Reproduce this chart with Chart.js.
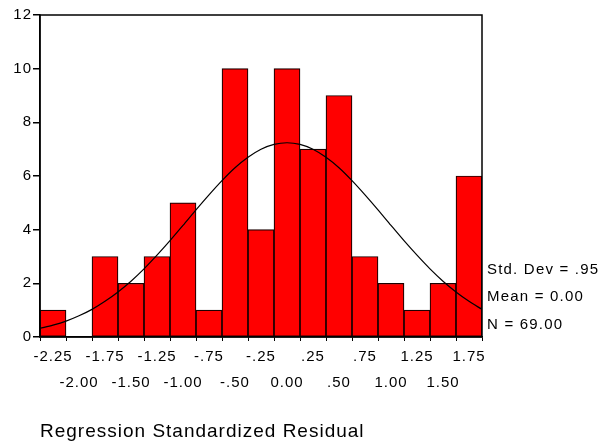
<!DOCTYPE html>
<html>
<head>
<meta charset="utf-8">
<script src="https://cdn.jsdelivr.net/npm/chart.js@4"></script>
<style>
  html, body { margin: 0; padding: 0; background: #fff; }
  #wrap { width: 603px; height: 443px; }
</style>
</head>
<body>
<div id="wrap"><canvas id="hist"></canvas></div>
<script>
// bin centres and counts
const binCenters = [-2.25, -2.00, -1.75, -1.50, -1.25, -1.00, -0.75, -0.50, -0.25, 0.00, 0.25, 0.50, 0.75, 1.00, 1.25, 1.50, 1.75];
const counts = [1, 0, 3, 2, 3, 5, 1, 10, 4, 10, 7, 9, 3, 2, 1, 2, 6];
const xTickLabels = ['-2.25', '-2.00', '-1.75', '-1.50', '-1.25', '-1.00', '-.75', '-.50', '-.25', '0.00', '.25', '.50', '.75', '1.00', '1.25', '1.50', '1.75'];
const yTicks = [0, 2, 4, 6, 8, 10, 12];

// normal curve, heights
const curveX = [-2.375, -2.25, -2.125, -2.0, -1.875, -1.75, -1.625, -1.5, -1.375, -1.25, -1.125, -1.0, -0.875, -0.75, -0.625, -0.5, -0.375, -0.25, -0.125,
  0, 0.125, 0.25, 0.375, 0.5, 0.625, 0.75, 0.875, 1.0, 1.125, 1.25, 1.375, 1.5, 1.625, 1.75, 1.875];
const curveY = [0.32, 0.44, 0.59, 0.79, 1.03, 1.33, 1.68, 2.08, 2.54, 3.05, 3.59, 4.16, 4.74, 5.30, 5.83, 6.31, 6.70, 7.00, 7.18,
  7.24, 7.18, 7.00, 6.70, 6.31, 5.83, 5.30, 4.74, 4.16, 3.59, 3.05, 2.54, 2.08, 1.68, 1.33, 1.03];

const statLines = ['Std. Dev = .95', 'Mean = 0.00', 'N = 69.00'];
const xTitle = 'Regression Standardized Residual';

const FONT = 'Arial, "Liberation Sans", sans-serif';

// frame + stats text
const extras = {
  id: 'extras',
  beforeUpdate(chart) { chart.ctx.letterSpacing = '1px'; },
  beforeDraw(chart) { chart.ctx.letterSpacing = '1px'; },
  afterDraw(chart) {
    const { ctx, chartArea: a } = chart;
    ctx.save();
    ctx.strokeStyle = '#000';
    ctx.lineWidth = 1.5;
    ctx.strokeRect(a.left, a.top, a.right - a.left, a.bottom - a.top);
    ctx.fillStyle = '#000';
    ctx.font = '15px ' + FONT;
    ctx.letterSpacing = '1.2px';
    ctx.textBaseline = 'middle';
    ctx.textAlign = 'left';
    const ys = [270, 297, 325];
    statLines.forEach((t, i) => ctx.fillText(t, a.right + 5, ys[i]));
    ctx.restore();
  }
};

new Chart(document.getElementById('hist'), {
  data: {
    datasets: [
      {
        type: 'line',
        data: curveX.map((x, i) => ({ x, y: curveY[i] })),
        borderColor: '#000',
        borderWidth: 1.2,
        pointRadius: 0,
        tension: 0.3,
        fill: false,
        order: 0
      },
      {
        type: 'bar',
        data: binCenters.map((x, i) => ({ x, y: counts[i] })),
        backgroundColor: '#ff0000',
        borderColor: '#1a0000',
        borderWidth: 1.2,
        borderSkipped: false,
        barPercentage: 1,
        categoryPercentage: 1,
        order: 1
      }
    ]
  },
  options: {
    responsive: true,
    maintainAspectRatio: false,
    animation: false,
    layout: { padding: { left: 0, top: 15, right: 121, bottom: 0 } },
    plugins: { legend: { display: false }, tooltip: { enabled: false } },
    scales: {
      x: {
        type: 'linear',
        min: -2.375,
        max: 1.875,
        offset: false,
        afterBuildTicks: s => { s.ticks = binCenters.map(v => ({ value: v })); },
        afterFit: s => { s.height = 443 - 337; },
        grid: { display: true, drawOnChartArea: false, drawTicks: true, tickLength: 4, color: '#000', lineWidth: 1 },
        border: { display: true, color: '#000', width: 1.5 },
        ticks: {
          autoSkip: false,
          maxRotation: 0,
          padding: 3,
          color: '#000',
          font: { family: FONT, size: 15, lineHeight: 26 / 15 },
          callback: (v, i) => i % 2 === 0 ? [xTickLabels[i], ''] : ['', xTickLabels[i]]
        },
        title: {
          display: true,
          text: xTitle,
          align: 'start',
          color: '#000',
          font: { family: FONT, size: 19 },
          padding: { top: 0, bottom: 0 }
        }
      },
      y: {
        min: 0,
        max: 12,
        afterBuildTicks: s => { s.ticks = yTicks.map(v => ({ value: v })); },
        afterFit: s => { s.width = 40; },
        grid: { display: true, drawOnChartArea: false, drawTicks: true, tickLength: 7, color: '#000', lineWidth: 1.5 },
        border: { display: true, color: '#000', width: 1.5 },
        ticks: { padding: 1, color: '#000', font: { family: FONT, size: 15 } }
      }
    }
  },
  plugins: [extras]
});
</script>
</body>
</html>
